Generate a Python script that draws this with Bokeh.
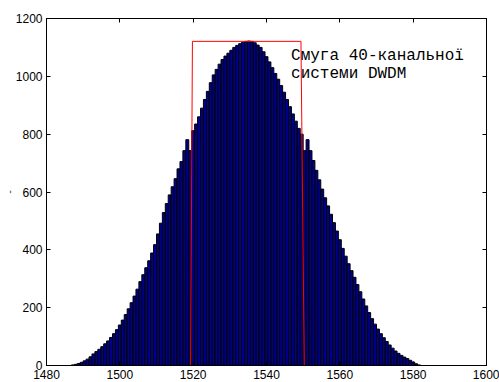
import numpy as np
from bokeh.plotting import figure
from bokeh.models import LinearAxis, FixedTicker, Range1d, ColumnDataSource
from bokeh.core.properties import value
from bokeh.embed import file_html
from bokeh.resources import INLINE

# data
bar_start = 1487.2
bar_step = 0.8
counts = [2, 4, 7, 11, 16, 22, 30, 40, 48, 56,
          65, 75, 85, 97, 110, 124, 140, 157, 176, 196,
          217, 240, 264, 290, 314, 338, 362, 389, 418, 455,
          492, 529, 560, 590, 618, 646, 680, 705, 743, 781,
          743, 812, 835, 860, 890, 920, 948, 978, 1005, 1024,
          1042, 1058, 1070, 1080, 1090, 1100, 1107, 1113, 1118, 1121,
          1122, 1121, 1116, 1108, 1100, 1085, 1068, 1050, 1030, 1010,
          990, 968, 945, 920, 895, 870, 845, 820, 800, 743,
          781, 743, 709, 675, 642, 610, 580, 552, 523, 494,
          465, 435, 405, 378, 352, 328, 305, 280, 255, 230,
          206, 183, 162, 143, 126, 110, 96, 83, 71, 60,
          50, 42, 35, 29, 24, 18, 12, 6, 2]
wavelengths = [bar_start + bar_step * i for i in range(len(counts))]

band_x = [1519.3, 1519.8, 1549.4, 1550.3]
band_y = [0, 1121, 1121, 0]

label_lines = ["Смуга 40-канальної", "системи DWDM"]
label_x = [1546.7, 1546.7]
label_y = [1069, 1007]

x_ticks = [1480, 1500, 1520, 1540, 1560, 1580, 1600]
y_ticks = [0, 200, 400, 600, 800, 1000, 1200]

p = figure(width=499, height=382, output_backend="svg", toolbar_location=None,
           x_range=Range1d(1480, 1600), y_range=Range1d(0, 1200),
           min_border_left=46, min_border_right=13, min_border_top=18, min_border_bottom=17)
p.background_fill_color = "white"
p.border_fill_color = "white"
p.grid.visible = False
p.outline_line_color = "#000000"

src = ColumnDataSource(dict(x=wavelengths, top=counts))
p.vbar(x="x", top="top", width=bar_step, bottom=0, source=src,
       fill_color="#00008F", line_color="black", line_width=1)

p.line(band_x, band_y, line_color="#FF0000", line_width=1)

p.text(x=label_x, y=label_y, text=label_lines, text_font=value("Liberation Mono"),
       text_font_size="16px", text_color="black", text_baseline="alphabetic")

def style_axis(ax, ticks, show_labels=True):
    ax.ticker = FixedTicker(ticks=ticks)
    ax.major_tick_in = 4
    ax.major_tick_out = 0
    ax.minor_tick_line_color = None
    ax.axis_line_color = "black"
    ax.major_tick_line_color = "black"
    ax.major_label_text_font = "Liberation Sans"
    ax.major_label_text_font_size = "12px"
    ax.major_label_text_color = "black"
    ax.major_label_standoff = 4
    if not show_labels:
        ax.major_label_text_font_size = "0px"
        ax.major_label_text_alpha = 0

style_axis(p.xaxis[0], x_ticks)
style_axis(p.yaxis[0], y_ticks)
p.yaxis[0].axis_label = "-"
p.yaxis[0].axis_label_standoff = 0
p.yaxis[0].axis_label_text_font_size = "11px"
p.yaxis[0].axis_label_text_font_style = "normal"
p.yaxis[0].axis_label_text_font = "Liberation Sans"

top_ax = LinearAxis()
style_axis(top_ax, x_ticks, show_labels=False)
p.add_layout(top_ax, "above")
right_ax = LinearAxis()
style_axis(right_ax, y_ticks, show_labels=False)
p.add_layout(right_ax, "right")

open("out.html", "w").write(file_html(p, INLINE))
